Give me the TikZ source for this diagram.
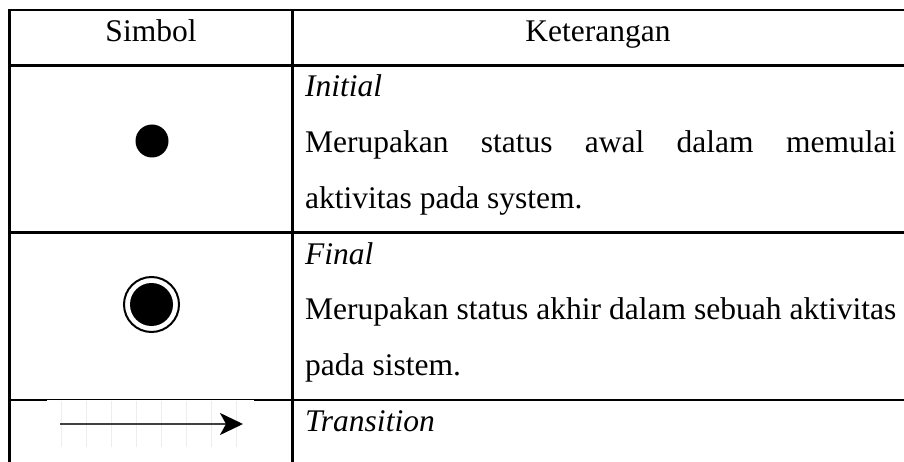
\documentclass[tikz,border=0pt]{standalone}
\usepackage{fontspec}
\setmainfont{Liberation Serif}
\usetikzlibrary{arrows.meta}
\newcommand{\cellfont}{\fontsize{31.5pt}{55.67pt}\selectfont}
\hyphenpenalty=10000
\exhyphenpenalty=10000
\tolerance=9999

\begin{document}
\begin{tikzpicture}[x=1pt, y=-1pt,
      every node/.style={font=\cellfont, inner sep=0pt},
      rule/.style={line width=2.7pt, line cap=rect},
      headcell/.style={anchor=base},
      desccell/.style={anchor=base west, text width=591pt, align=justify},
      transarrow/.style={line width=2.4pt, black!75,
          -{Stealth[length=23pt, width=22pt, inset=6pt, black]}}]
    \useasboundingbox (0,0) rectangle (904,462);
    % table rules
    \draw[rule] (9.5,10) -- (904,10);
    \draw[rule] (9.5,65.5) -- (904,65.5);
    \draw[rule] (9.5,232.5) -- (904,232.5);
    \draw[rule] (9.5,400) -- (904,400);
    \draw[rule] (9.5,10) -- (9.5,470);
    \draw[rule] (292.5,10) -- (292.5,470);
    % header
    \node[headcell] (hsym) at (151,42) {Simbol};
    \node[headcell] (hket) at (598,42) {Keterangan};
    % initial
    \node[circle, fill, minimum size=33pt] (initdot) at (152,141) {};
    \node[desccell] (descinit) at (305,97) {\textit{Initial}\\Merupakan status awal dalam memulai aktivitas pada system.};
    % final
    \node[circle, draw, line width=2pt, minimum size=55pt] (finring) at (151.5,304.5) {};
    \node[circle, fill, minimum size=43pt] (findot) at (finring.center) {};
    \node[desccell] (descfin) at (305,264) {\textit{Final}\\Merupakan status akhir dalam sebuah aktivitas pada sistem.};
    % transition (pasted picture with faint grid)
    \fill[white] (47,400.3) rectangle (254,447);
    \foreach \gx in {61,86,...,236}
      \draw[black!7, line width=1pt] (\gx,401) -- (\gx,447);
    \coordinate (tstart) at (60,424);
    \coordinate (tend) at (243,424);
    \draw[transarrow] (tstart) -- (tend);
    \node[desccell] (desctrans) at (305,431) {\textit{Transition}};
\end{tikzpicture}
\end{document}
